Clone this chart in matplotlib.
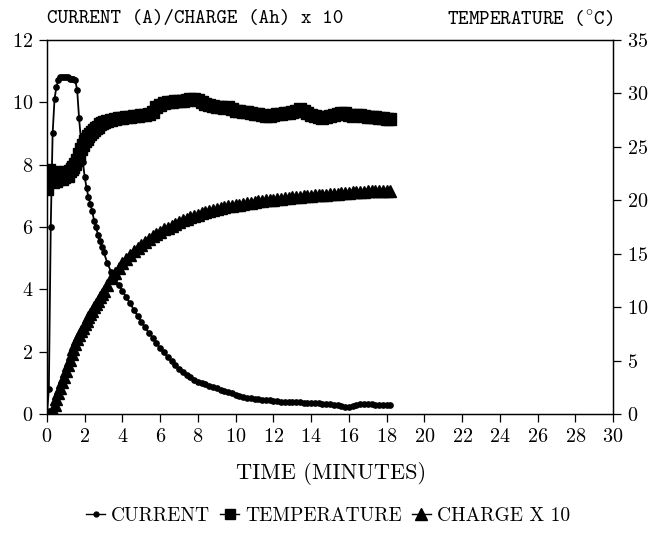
import matplotlib
matplotlib.use("Agg")
import matplotlib.pyplot as plt
from matplotlib.lines import Line2D

plt.rcParams['font.family'] = ['cmr10', 'DejaVu Serif']
plt.rcParams['axes.formatter.use_mathtext'] = True
plt.rcParams['mathtext.fontset'] = 'cm'

time_min = [0.0, 0.1, 0.2, 0.3, 0.4, 0.5, 0.6, 0.7, 0.8, 0.9, 1.0, 1.1, 1.2, 1.3, 1.4, 1.5,
            1.6, 1.7, 1.8, 1.9, 2.0, 2.1, 2.2, 2.3, 2.4, 2.5, 2.6, 2.7, 2.8, 2.9, 3.0,
            3.2, 3.4, 3.6, 3.8, 4.0, 4.2, 4.4, 4.6, 4.8, 5.0, 5.2, 5.4, 5.6, 5.8, 6.0,
            6.2, 6.4, 6.6, 6.8, 7.0, 7.2, 7.4, 7.6, 7.8, 8.0, 8.2, 8.4, 8.6, 8.8, 9.0,
            9.2, 9.4, 9.6, 9.8, 10.0, 10.2, 10.4, 10.6, 10.8, 11.0, 11.2, 11.4, 11.6, 11.8, 12.0,
            12.2, 12.4, 12.6, 12.8, 13.0, 13.2, 13.4, 13.6, 13.8, 14.0, 14.2, 14.4, 14.6, 14.8, 15.0,
            15.2, 15.4, 15.6, 15.8, 16.0, 16.2, 16.4, 16.6, 16.8, 17.0, 17.2, 17.4, 17.6, 17.8, 18.0,
            18.2]

current_a = [0.0, 0.8, 6.0, 9.0, 10.1, 10.5, 10.7, 10.8, 10.8, 10.8, 10.8, 10.8, 10.75, 10.75, 10.75, 10.7,
             10.4, 9.5, 8.8, 8.1, 7.6, 7.25, 6.95, 6.75, 6.5, 6.2, 6.0, 5.75, 5.55, 5.35, 5.2,
             4.85, 4.55, 4.35, 4.15, 3.95, 3.75, 3.55, 3.35, 3.15, 2.95, 2.78, 2.6, 2.45, 2.27, 2.12,
             1.98, 1.82, 1.7, 1.56, 1.45, 1.35, 1.25, 1.18, 1.1, 1.04, 0.99, 0.95, 0.9, 0.85, 0.82,
             0.78, 0.74, 0.7, 0.66, 0.62, 0.58, 0.55, 0.52, 0.5, 0.49, 0.48, 0.46, 0.45, 0.44, 0.43,
             0.41, 0.4, 0.39, 0.39, 0.38, 0.38, 0.37, 0.36, 0.36, 0.35, 0.34, 0.34, 0.33, 0.32, 0.31,
             0.3, 0.28, 0.26, 0.23, 0.24, 0.27, 0.3, 0.32, 0.32, 0.31, 0.31, 0.3, 0.3, 0.29, 0.29,
             0.28]

temperature_c = [21.1, 22.8, 22.3, 21.7, 22.6, 21.8, 22.0, 22.5, 22.0, 22.2, 22.6, 22.3, 22.7, 22.9, 23.1, 23.4,
                 23.8, 24.3, 24.8, 25.2, 25.5, 25.7, 26.0, 26.2, 26.4, 26.6, 26.8, 26.9, 27.1, 27.2, 27.3,
                 27.4, 27.5, 27.6, 27.7, 27.7, 27.8, 27.8, 27.9, 27.9, 28.0, 28.0, 28.1, 28.3, 28.7, 28.9,
                 29.1, 29.2, 29.2, 29.3, 29.3, 29.3, 29.4, 29.5, 29.5, 29.4, 29.2, 29.0, 28.9, 28.8, 28.7,
                 28.7, 28.6, 28.7, 28.5, 28.4, 28.4, 28.3, 28.3, 28.2, 28.1, 28.1, 28.0, 27.9, 27.9, 28.0,
                 28.1, 28.1, 28.2, 28.2, 28.3, 28.4, 28.5, 28.4, 28.2, 28.0, 27.9, 27.8, 27.7, 27.8, 27.9,
                 28.0, 28.1, 28.2, 28.2, 28.0, 27.9, 28.0, 28.0, 27.9, 27.8, 27.8, 27.8, 27.7, 27.7, 27.6,
                 27.6]

charge_x10 = [0.0, 0.0, 0.0, 0.1, 0.3, 0.48, 0.66, 0.84, 1.02, 1.2, 1.38, 1.56, 1.74, 1.92, 2.09, 2.25,
              2.4, 2.53, 2.65, 2.77, 2.88, 2.99, 3.1, 3.21, 3.32, 3.43, 3.54, 3.64, 3.74, 3.84, 3.94,
              4.15, 4.35, 4.52, 4.68, 4.83, 4.97, 5.1, 5.22, 5.33, 5.43, 5.53, 5.62, 5.7, 5.78, 5.85,
              5.92, 5.98, 6.04, 6.1, 6.16, 6.21, 6.26, 6.31, 6.36, 6.4, 6.44, 6.48, 6.51, 6.54, 6.57,
              6.6, 6.63, 6.66, 6.68, 6.7, 6.72, 6.74, 6.76, 6.78, 6.8, 6.82, 6.84, 6.85, 6.87, 6.88,
              6.9, 6.91, 6.92, 6.93, 6.95, 6.96, 6.97, 6.98, 6.99, 7.0, 7.01, 7.02, 7.03, 7.04, 7.05,
              7.06, 7.07, 7.08, 7.09, 7.1, 7.11, 7.12, 7.13, 7.13, 7.14, 7.15, 7.15, 7.16, 7.16, 7.17,
              7.17]

x_ticks = list(range(0, 31, 2))
left_ticks = [0, 2, 4, 6, 8, 10, 12]
right_ticks = [0, 5, 10, 15, 20, 25, 30, 35]

fig = plt.figure(figsize=(6.56, 5.33), dpi=100)
ax = fig.add_axes([0.0716, 0.2233, 0.863, 0.7017])
ax2 = ax.twinx()

ax.plot(time_min, charge_x10, color='black', lw=1.2, marker='^', ms=8.5, mec='black', zorder=3)
ax.plot(time_min, current_a, color='black', lw=1.3, marker='o', ms=3.8, zorder=4)
ax2.plot(time_min, temperature_c, color='black', lw=1.2, marker='s', ms=8, zorder=3)

ax.set_xlim(0, 30)
ax.set_ylim(0, 12)
ax2.set_ylim(0, 35)
ax.set_xticks(x_ticks)
ax.set_yticks(left_ticks)
ax2.set_yticks(right_ticks)

for a in (ax, ax2):
    for s in a.spines.values():
        s.set_linewidth(0.9)
ax.tick_params(axis='both', direction='out', length=6, width=0.9, labelsize=14.5, pad=4)
ax2.tick_params(axis='y', direction='out', length=6, width=0.9, labelsize=14.5, pad=4)

fig.text(0.505, 0.112, 'TIME (MINUTES)', fontsize=16, ha='center', va='center')

fig.text(0.0716, 0.964, 'CURRENT (A)/CHARGE (Ah) x 10', fontsize=14.5, ha='left', va='center',
         family=['cmtt10', 'DejaVu Sans Mono'])
fig.text(0.9345, 0.964, r'TEMPERATURE ($^{\circ}$C)', fontsize=14.5, ha='right', va='center',
         family=['cmtt10', 'DejaVu Sans Mono'])

handles = [
    Line2D([], [], color='black', lw=1.0, marker='o', ms=3.5),
    Line2D([], [], color='black', lw=1.0, marker='s', ms=6.5),
    Line2D([], [], color='black', lw=1.0, marker='^', ms=8),
]
labels = ['CURRENT', 'TEMPERATURE', 'CHARGE X 10']
fig.legend(handles, labels, loc='center', bbox_to_anchor=(0.5, 0.032), ncol=3, frameon=False,
           fontsize=14, handlelength=1.0, handletextpad=0.3, columnspacing=0.5)

fig.savefig('out.png', dpi=100)
